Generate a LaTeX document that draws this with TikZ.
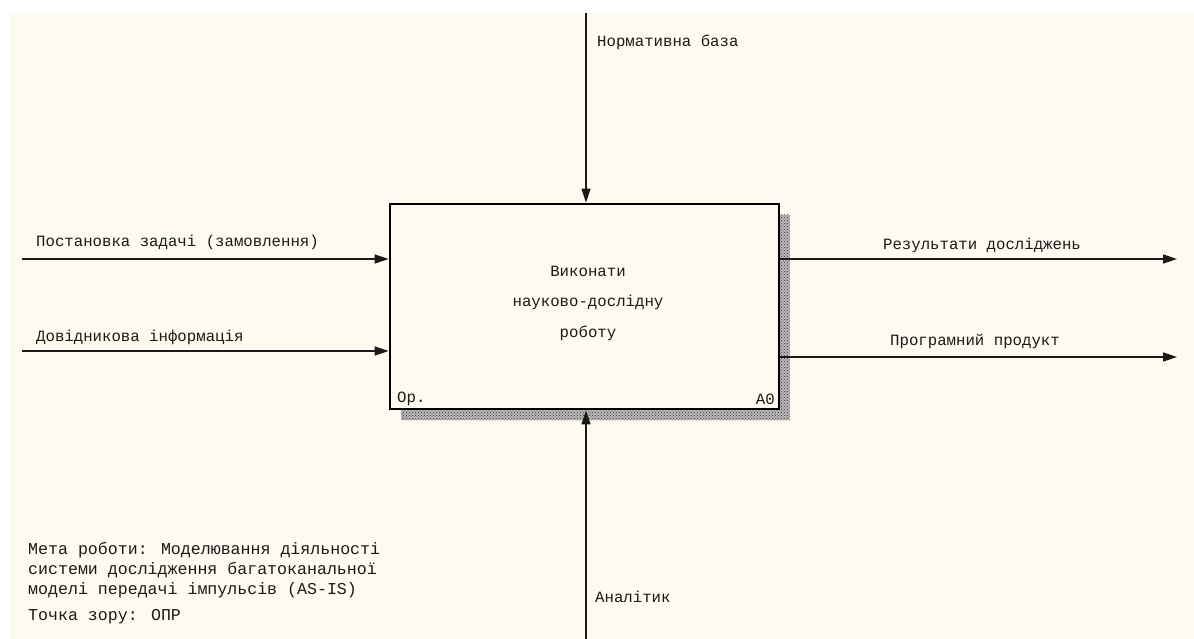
\documentclass[tikz,border=0pt]{standalone}
\usepackage{fontspec}
\usetikzlibrary{arrows.meta,patterns}
\newfontfamily\idefmono{Liberation Mono}
\definecolor{sheet}{HTML}{FFFAEF}
\definecolor{ink}{HTML}{1A1A1A}
\tikzset{
  flow/.style={draw=ink, line width=1.6pt, -{Triangle[length=14pt,width=9pt]}},
  lbl/.style={font=\idefmono\fontsize{15.7}{18}\selectfont, text=ink, inner sep=0pt},
  note/.style={font=\idefmono\fontsize{16.6}{20}\selectfont, text=ink, inner sep=0pt, anchor=west},
  actbox/.style={draw=black, line width=2.8pt, fill=sheet, minimum width=389pt, minimum height=205pt, inner sep=0pt}
}
\begin{document}
\begin{tikzpicture}[x=1pt,y=-1pt]
\useasboundingbox (0,0) rectangle (1194,639);
\fill[white] (0,0) rectangle (1194,639);
\fill[sheet] (10,13) rectangle (1194,639);

% drop shadow of the activity box
\fill[gray!55] (401,215) rectangle (790,420);
\fill[pattern=crosshatch dots, pattern color=black!80] (401,215) rectangle (790,420);

% activity box
\node[actbox] (A0) at (584.5,306.5) {};
\node[lbl] (t1) at (588,271) {Виконати};
\node[lbl] (t2) at (588,302) {науково-дослідну};
\node[lbl] (t3) at (588,333) {роботу};
\node[lbl, anchor=west] (op) at (397,399) {Ор.};
\node[lbl, anchor=east] (num) at (775,399) {А0};

% inputs
\coordinate (in1) at (22,259);
\coordinate (in2) at (22,351);
\draw[flow] (in1) -- (in1 -| A0.west);
\draw[flow] (in2) -- (in2 -| A0.west);
\node[lbl, anchor=west] (lin1) at (36,242) {Постановка задачі (замовлення)};
\node[lbl, anchor=west] (lin2) at (36,337) {Довідникова інформація};

% outputs
\coordinate (out1) at (1177,259);
\coordinate (out2) at (1177,357);
\draw[flow] (out1 -| A0.east) -- (out1);
\draw[flow] (out2 -| A0.east) -- (out2);
\node[lbl] (lout1) at (982,245) {Результати досліджень};
\node[lbl] (lout2) at (975,342) {Програмний продукт};

% control
\coordinate (ctl) at (586,13);
\draw[flow] (ctl) -- (ctl |- A0.north);
\node[lbl, anchor=west] (lctl) at (597,42) {Нормативна база};

% mechanism
\coordinate (mech) at (586,639);
\draw[flow] (mech) -- (mech |- A0.south);
\node[lbl, anchor=west] (lmech) at (595,597) {Аналітик};

% diagram notes
\node[note] (n1) at (28,550) {Мета роботи: Моделювання діяльності};
\node[note] (n2) at (28,570) {системи дослідження багатоканальної};
\node[note] (n3) at (28,590) {моделі передачі імпульсів (AS-IS)};
\node[note] (n4) at (28,617) {Точка зору: ОПР};
\end{tikzpicture}
\end{document}
